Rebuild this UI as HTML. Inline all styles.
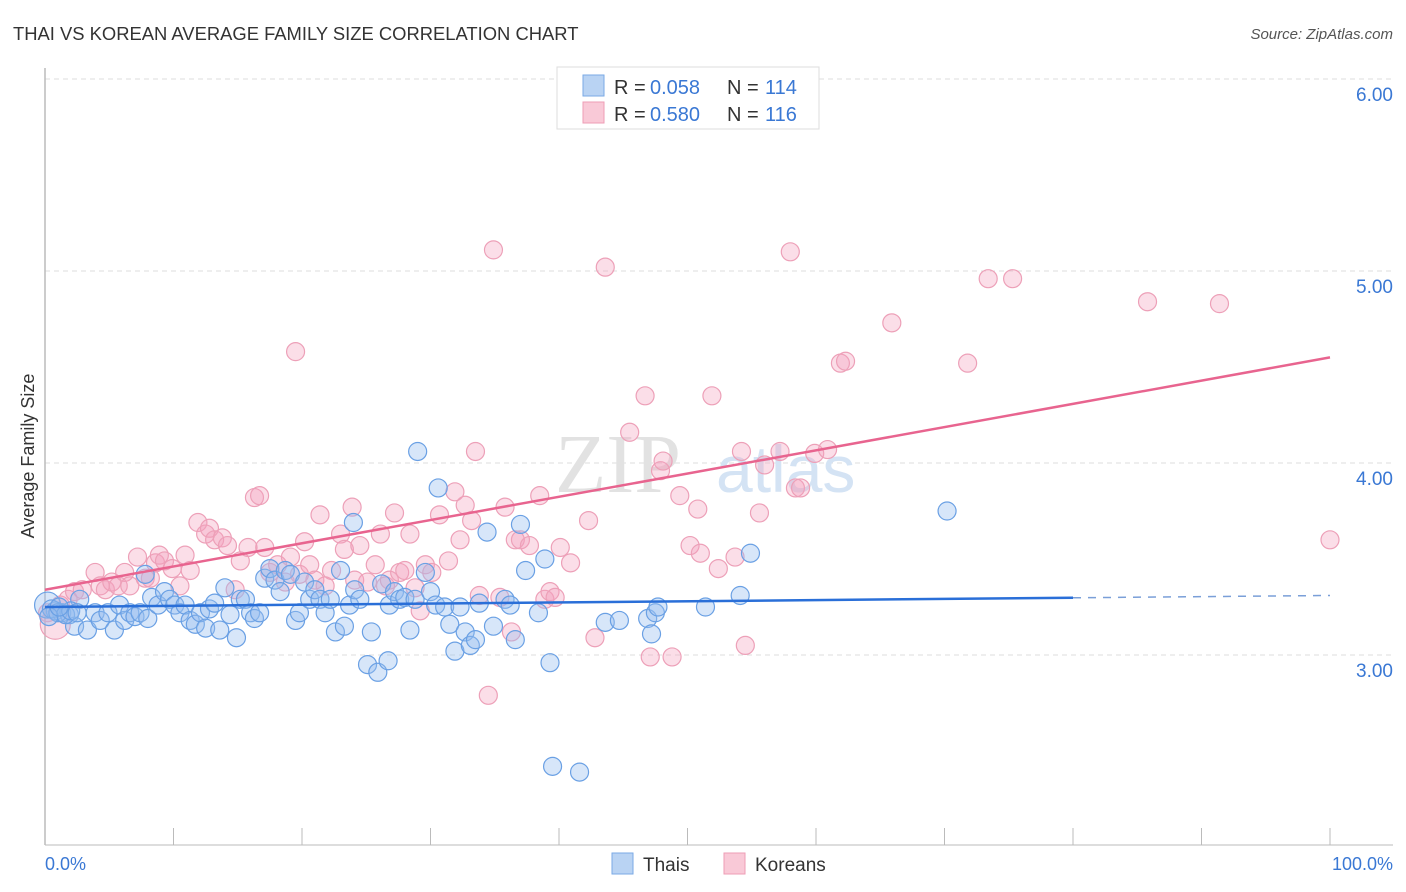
<!DOCTYPE html>
<html><head><meta charset="utf-8">
<style>
body{margin:0;background:#fff;font-family:"Liberation Sans",sans-serif;}
svg{display:block}
</style></head>
<body>
<svg id="chart" width="1406" height="892">
<text x="13" y="40" font-size="18.4" fill="#333">THAI VS KOREAN AVERAGE FAMILY SIZE CORRELATION CHART</text>
<text x="1393" y="39" font-size="15" fill="#555" font-style="italic" text-anchor="end">Source: ZipAtlas.com</text>
<text transform="translate(34,456) rotate(-90)" font-size="18" fill="#333" text-anchor="middle">Average Family Size</text>
<g id="grid"></g>
<g id="yticks"></g>
<text x="555" y="492" font-size="84" fill="#e2e2e2" font-family="Liberation Serif,serif">ZIP</text>
<text x="716" y="492" font-size="66" fill="#d4e3f4">atlas</text>
<line x1="45" y1="68" x2="45" y2="845" stroke="#bbb" stroke-width="1.5"/>
<line x1="45" y1="845" x2="1393" y2="845" stroke="#bbb" stroke-width="1"/>
<g id="xticks"></g>
<g id="pink"></g>
<g id="blue"></g>
<g id="trends"></g>
<text x="45" y="870" font-size="18" fill="#3a78d4">0.0%</text>
<text x="1393" y="870" font-size="18" fill="#3a78d4" text-anchor="end">100.0%</text>
<g>
<rect x="557" y="67" width="262" height="62" fill="#fff" stroke="#ddd"/>
<rect x="583" y="75" width="21" height="21" fill="#b9d3f3" stroke="#7aaae6"/>
<rect x="583" y="102" width="21" height="21" fill="#f9c9d7" stroke="#ee9db5"/>
<text y="94" font-size="20" fill="#333"><tspan x="614">R = </tspan><tspan x="650" fill="#3a78d4">0.058</tspan><tspan x="727">N = </tspan><tspan x="765" fill="#3a78d4">114</tspan></text>
<text y="121" font-size="20" fill="#333"><tspan x="614">R = </tspan><tspan x="650" fill="#3a78d4">0.580</tspan><tspan x="727">N = </tspan><tspan x="765" fill="#3a78d4">116</tspan></text>
</g>
<g>
<rect x="612" y="853" width="21" height="21" fill="#b9d3f3" stroke="#7aaae6"/>
<text x="643" y="871" font-size="19" fill="#333">Thais</text>
<rect x="724" y="853" width="21" height="21" fill="#f9c9d7" stroke="#ee9db5"/>
<text x="755" y="871" font-size="19" fill="#333">Koreans</text>
</g>
</svg>
<script>
const yTicks=[3,4,5,6];
const yTickLabels=["3.00","4.00","5.00","6.00"];
const xTicks=[0,10,20,30,40,50,60,70,80,90,100];
const thaiX=[0.2,0.8,1.3,1.9,2.3,2.7,3.3,3.9,4.3,4.9,5.4,5.8,6.2,6.6,7.0,7.4,7.8,8.0,8.3,8.8,9.3,9.7,10.1,10.5,10.9,11.3,11.7,12.1,12.5,12.8,13.2,13.6,14.0,14.4,14.9,15.2,15.6,16.0,16.3,16.7,17.1,17.5,17.9,18.3,18.7,19.1,19.5,19.8,20.2,20.6,21.0,21.4,21.8,22.2,22.6,23.0,23.3,23.7,24.0,24.1,24.5,25.1,25.4,25.9,26.2,26.7,26.8,27.2,27.6,28.0,28.4,28.8,29.0,29.6,30.0,30.4,30.6,31.1,31.5,31.9,32.3,32.7,33.1,33.5,33.8,34.4,34.9,35.8,36.2,36.6,37.0,37.4,38.4,38.9,39.3,39.5,41.6,43.6,44.7,46.9,47.2,47.5,47.7,51.4,54.1,54.9,70.2,0.5,1.0,1.6,2.0,0.3,1.1,2.5];
const thaiY=[3.26,3.23,3.22,3.21,3.15,3.29,3.13,3.22,3.18,3.22,3.13,3.26,3.18,3.22,3.20,3.22,3.42,3.19,3.30,3.26,3.33,3.29,3.26,3.22,3.26,3.18,3.16,3.22,3.14,3.24,3.27,3.13,3.35,3.21,3.09,3.29,3.29,3.22,3.19,3.22,3.40,3.45,3.39,3.33,3.44,3.42,3.18,3.22,3.38,3.29,3.34,3.29,3.22,3.29,3.12,3.44,3.15,3.26,3.69,3.34,3.29,2.95,3.12,2.91,3.37,2.97,3.26,3.33,3.29,3.30,3.13,3.29,4.06,3.43,3.33,3.26,3.87,3.25,3.16,3.02,3.25,3.12,3.05,3.08,3.27,3.64,3.15,3.29,3.26,3.08,3.68,3.44,3.22,3.50,2.96,2.42,2.39,3.17,3.18,3.19,3.11,3.22,3.25,3.25,3.31,3.53,3.75,3.24,3.22,3.21,3.23,3.20,3.25,3.22];
const koreanX=[0.2,0.8,1.2,1.8,2.3,2.9,3.9,4.3,4.7,5.2,5.7,6.2,6.6,7.2,7.8,8.2,8.6,8.9,9.3,9.9,10.5,10.9,11.3,11.9,12.5,12.8,13.2,13.8,14.2,14.8,15.2,15.8,16.3,16.7,17.1,17.5,18.1,18.7,19.1,19.5,19.8,20.2,20.6,21.0,21.4,21.8,22.3,23.0,23.3,23.9,24.1,24.5,25.1,25.7,26.1,26.5,26.8,27.2,27.6,28.0,28.4,28.8,29.2,29.6,30.1,30.7,31.4,31.9,32.3,32.7,33.2,33.5,33.8,34.5,34.9,35.4,35.8,36.3,36.6,37.0,37.7,38.5,38.9,39.3,39.7,40.1,40.9,42.3,42.8,43.6,45.5,46.7,47.1,47.9,48.1,48.8,49.4,50.2,50.8,51.0,51.9,52.4,53.7,54.2,54.5,55.6,56.0,57.2,58.0,58.4,58.8,59.9,60.9,61.9,62.3,65.9,71.8,73.4,75.3,85.8,91.4,100];
const koreanY=[3.22,3.16,3.26,3.29,3.33,3.34,3.43,3.36,3.34,3.38,3.36,3.43,3.36,3.51,3.40,3.40,3.48,3.52,3.49,3.45,3.36,3.52,3.44,3.69,3.63,3.66,3.60,3.61,3.57,3.34,3.49,3.56,3.82,3.83,3.56,3.43,3.47,3.38,3.51,4.58,3.42,3.59,3.47,3.39,3.73,3.36,3.44,3.63,3.55,3.77,3.39,3.57,3.38,3.47,3.63,3.36,3.39,3.74,3.43,3.44,3.63,3.35,3.23,3.47,3.43,3.73,3.49,3.85,3.60,3.78,3.70,4.06,3.31,2.79,5.11,3.30,3.77,3.12,3.60,3.60,3.57,3.83,3.29,3.33,3.30,3.56,3.48,3.70,3.09,5.02,4.16,4.35,2.99,3.96,4.01,2.99,3.83,3.57,3.76,3.53,4.35,3.45,3.51,4.06,3.05,3.74,3.99,4.06,5.10,3.87,3.87,4.05,4.07,4.52,4.53,4.73,4.52,4.96,4.96,4.84,4.83,3.60];
const thaiTrend=[3.25,3.31];
const koreanTrend=[3.34,4.55];
const thaiSolidEnd=80;

const NS="http://www.w3.org/2000/svg";
function sx(v){return 45+v*12.85;}
function sy(v){return 655-(v-3)*192;}
function mk(tag,attrs,parent){const e=document.createElementNS(NS,tag);for(const k in attrs)e.setAttribute(k,attrs[k]);parent.appendChild(e);return e;}
const grid=document.getElementById('grid'),yt=document.getElementById('yticks'),xt=document.getElementById('xticks');
yTicks.forEach((t,i)=>{
  const l=mk('line',{x1:45,x2:1393,y1:sy(t),y2:sy(t),stroke:'#ddd','stroke-dasharray':'5,4'},grid);
  
  
  const tx=mk('text',{x:1393,y:sy(t)+22,'font-size':19,fill:'#3a78d4','text-anchor':'end'},yt);
  tx.textContent=yTickLabels[i];
  
  
});
xTicks.forEach(t=>{
  const l=mk('line',{x1:sx(t),x2:sx(t),y1:828,y2:845,stroke:'#bbb'},xt);
  
  
});
const pg=document.getElementById('pink'),bg=document.getElementById('blue');
koreanX.forEach((x,i)=>{
  const c=mk('circle',{cx:sx(x),cy:sy(koreanY[i]),r:i===1?15:9,fill:'rgba(244,160,188,0.35)',stroke:'#eda0b8','stroke-width':1.2},pg);
  
  
});
thaiX.forEach((x,i)=>{
  const c=mk('circle',{cx:sx(x),cy:sy(thaiY[i]),r:i===0?13:9,fill:'rgba(150,190,238,0.38)',stroke:'#6aa0e4','stroke-width':1.2},bg);
  
  
});
const tg=document.getElementById('trends');
const ty=x=>thaiTrend[0]+(thaiTrend[1]-thaiTrend[0])*x/100;
const l1=mk('line',{x1:sx(0),y1:sy(koreanTrend[0]),x2:sx(100),y2:sy(koreanTrend[1]),stroke:'#e8648f','stroke-width':2.5},tg);


const l2=mk('line',{x1:sx(0),y1:sy(ty(0)),x2:sx(thaiSolidEnd),y2:sy(ty(thaiSolidEnd)),stroke:'#2a6fd8','stroke-width':2.5},tg);


const l3=mk('line',{x1:sx(thaiSolidEnd),y1:sy(ty(thaiSolidEnd)),x2:sx(100),y2:sy(ty(100)),stroke:'#7a9fd8','stroke-width':1.5,'stroke-dasharray':'8,7'},tg);


</script>
</body></html>
